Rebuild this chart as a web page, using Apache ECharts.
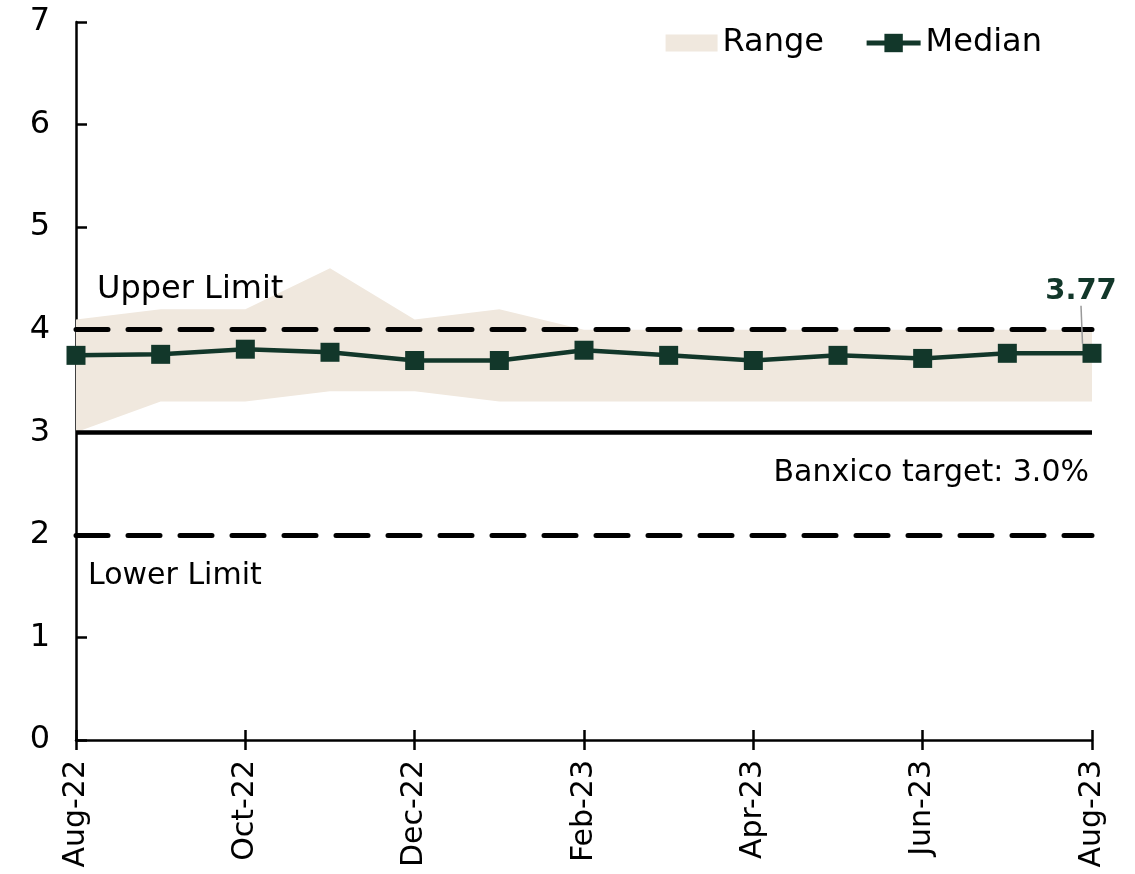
<!DOCTYPE html>
<html>
<head>
<meta charset="utf-8">
<script src="https://cdn.jsdelivr.net/npm/echarts@6/dist/echarts.min.js"></script>
<style>html,body{margin:0;padding:0;background:#fff;}#chart{width:1135px;height:874px;}</style>
</head>
<body>
<div id="chart"></div>
<script>
const categories = ['Aug-22','Sep-22','Oct-22','Nov-22','Dec-22','Jan-23','Feb-23','Mar-23','Apr-23','May-23','Jun-23','Jul-23','Aug-23'];
const rangeLow  = [3.0, 3.3, 3.3, 3.4, 3.4, 3.3, 3.3, 3.3, 3.3, 3.3, 3.3, 3.3, 3.3];
const rangeHigh = [4.1, 4.2, 4.2, 4.6, 4.1, 4.2, 4.0, 4.0, 4.0, 4.0, 4.0, 4.0, 4.0];
const median    = [3.75, 3.76, 3.81, 3.78, 3.70, 3.70, 3.80, 3.75, 3.70, 3.75, 3.72, 3.77, 3.77];
const upperLimit = 4;
const lowerLimit = 2;
const target = 3;

const FONT = 'DejaVu Sans';
const FS = 32;
const chart = echarts.init(document.getElementById('chart'));
const rangeSpan = rangeHigh.map((h, i) => +(h - rangeLow[i]).toFixed(3));
const lastIdx = median.length - 1;
const medianData = median.map((v, i) => i === lastIdx ? {
  value: v,
  label: {show: true, position: 'top', formatter: (p) => p.value.toFixed(2),
          fontFamily: FONT, fontSize: 29, fontWeight: 'bold', color: '#12372A'},
  labelLine: {show: true, lineStyle: {color: '#999', width: 1.5}}
} : v);

const dash = {type: [32, 20], width: 5, color: '#000', cap: 'round'};
const legendText = {fontFamily: FONT, fontSize: FS, color: '#000'};

chart.setOption({
  animation: false,
  textStyle: {fontFamily: FONT},
  grid: {left: 76, right: 43, top: 22, bottom: 134, containLabel: false, outerBoundsMode: 'none'},
  legend: [{
    right: 306, top: 22, itemWidth: 52, itemHeight: 17,
    data: [{name: 'Range', icon: 'rect'}],
    textStyle: legendText
  }, {
    right: 88, top: 22, itemWidth: 54, itemHeight: 23,
    data: [{name: 'Median', lineStyle: {width: 5}}],
    textStyle: legendText
  }],
  xAxis: [{
    type: 'category', data: categories, boundaryGap: false,
    axisLine: {lineStyle: {color: '#000', width: 2.5}},
    axisTick: {interval: 1, length: 10, lineStyle: {color: '#000', width: 2.5}},
    axisLabel: {interval: 1, rotate: 90, margin: 20, fontFamily: FONT, fontSize: 30, color: '#000'},
    splitLine: {show: false}
  }, {
    type: 'category', data: categories, boundaryGap: false, position: 'bottom',
    axisLine: {show: false},
    axisTick: {interval: 1, inside: true, length: 10, lineStyle: {color: '#000', width: 2.5}},
    axisLabel: {show: false},
    splitLine: {show: false}
  }],
  yAxis: {
    type: 'value', min: 0, max: 7, interval: 1,
    axisLine: {show: true, lineStyle: {color: '#000', width: 2.5}},
    axisTick: {show: true, inside: true, length: 11, lineStyle: {color: '#000', width: 2.5}},
    axisLabel: {margin: 26, fontFamily: FONT, fontSize: FS, color: '#000'},
    splitLine: {show: false}
  },
  series: [{
    name: 'RangeBase', type: 'line', stack: 'range', data: rangeLow,
    symbol: 'none', lineStyle: {opacity: 0}, areaStyle: {opacity: 0}, silent: true
  }, {
    name: 'Range', type: 'line', stack: 'range', data: rangeSpan,
    symbol: 'none', lineStyle: {opacity: 0}, color: '#F0E8DE',
    areaStyle: {color: '#F0E8DE', opacity: 1},
    markLine: {
      silent: true, symbol: 'none',
      data: [
        {yAxis: upperLimit, lineStyle: dash,
         label: {show: true, formatter: 'Upper Limit', position: 'insideStartTop', distance: [21, 24],
                 fontFamily: FONT, fontSize: FS, color: '#000'}},
        {yAxis: lowerLimit, lineStyle: dash,
         label: {show: true, formatter: 'Lower Limit', position: 'insideStartBottom', distance: [12, 26],
                 fontFamily: FONT, fontSize: 30, color: '#000'}},
        {yAxis: target, lineStyle: {type: 'solid', width: 4.5, color: '#000'},
         label: {show: true, formatter: 'Banxico target: 3.0%', position: 'insideEndBottom', distance: [3, 26],
                 fontFamily: FONT, fontSize: 30, color: '#000'}}
      ]
    }
  }, {
    name: 'Median', type: 'line', data: medianData, z: 5,
    symbol: 'rect', symbolSize: 19, color: '#12372A',
    lineStyle: {width: 4.5, color: '#12372A'},
    itemStyle: {color: '#12372A'},
    labelLayout: (p) => p.dataIndex === lastIdx ? {dx: -11, dy: -33} : {}
  }]
});
</script>
</body>
</html>
